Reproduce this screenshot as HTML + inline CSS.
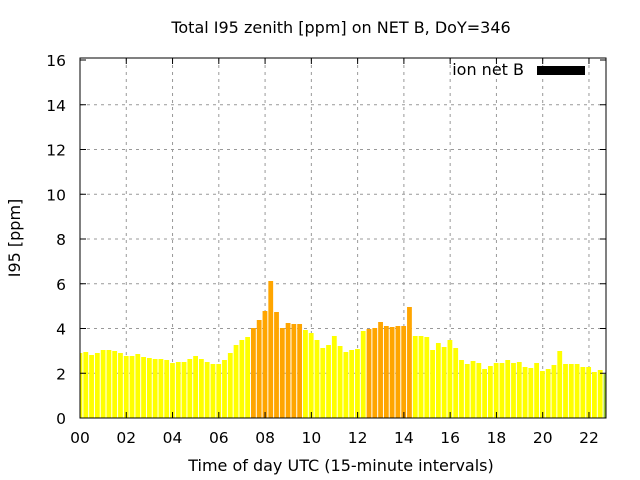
<!DOCTYPE html>
<html><head><meta charset="utf-8"><style>body{margin:0;background:#fff}svg{display:block}text{font-family:"DejaVu Sans","Liberation Sans",sans-serif;fill:#000}</style></head>
<body>
<svg id="s" width="640" height="480" xmlns="http://www.w3.org/2000/svg">
<rect width="640" height="480" fill="#fff"/>
<g id="grid" stroke="#999" stroke-dasharray="3,4" stroke-width="1"></g>
<g id="bars"></g>
<rect x="80" y="58" width="526" height="360" fill="none" stroke="#000" stroke-width="1"/>
<g id="ticks" stroke="#000"></g>
<g id="lab" font-size="15.5"></g>
<text x="341" y="33" text-anchor="middle" font-size="16">Total I95 zenith [ppm] on NET B, DoY=346</text>
<text x="341" y="471" text-anchor="middle" font-size="16">Time of day UTC (15-minute intervals)</text>
<text transform="translate(20,238) rotate(-90)" text-anchor="middle" font-size="16">I95 [ppm]</text>
<text x="524" y="75" text-anchor="end" font-size="16">ion net B</text>
<rect x="537" y="66" width="48" height="9" fill="#000"/>
</svg>
<script>
var NS="http://www.w3.org/2000/svg";
function el(p,t,a,tx){var e=document.createElementNS(NS,t);for(var k in a)e.setAttribute(k,a[k]);if(tx!==undefined)e.textContent=tx;document.getElementById(p).appendChild(e);}
var z1=[249,246,255,249,240,240,243,249,258,258,252,261,264,267,267,270,279,276,276,267,258,267,276,282,282,270,249,225,210,201,174,150,123,33,126,174,159,162,162,180,189,210,234,225,198];
var z2=[228,246,240,237,183,177,174,156,168,171,168,168,111,198,198,201,240,219,231,210,234,270,282,273,279,297,288,279,279,270,279,276,291,294,279,303,297,285,243,282,282,282,291,291,306,300,312];
var tops=[];z1.forEach(function(v){tops.push(270+v/3)});z2.forEach(function(v){tops.push(270+v/3)});
var orange=[30,31,32,33,34,35,36,37,38,50,51,52,53,54,55,56,57];
for(var i=0;i<tops.length;i++){var c=80+5.78*i,x=c-2.4,w=4.8;if(x<80){w-=80-x;x=80;}if(x+w>606)w=606-x;
var col=orange.indexOf(i)>=0?"#ffa500":"#ffff00";if(i==91)col="#9acd32";
el("bars","rect",{x:x,y:tops[i],width:w,height:418-tops[i],fill:col});}
for(var h=0;h<=22;h+=2){var x=80+h*23.135;if(h>0)el("grid","line",{x1:x,y1:58,x2:x,y2:418});
el("ticks","line",{x1:x,y1:418,x2:x,y2:412});el("ticks","line",{x1:x,y1:58,x2:x,y2:64});
el("lab","text",{x:x,y:443,"text-anchor":"middle"},(h<10?"0":"")+h);}
for(var v=0;v<=16;v+=2){var y=418-v*22.375;if(v>0&&v<16)el("grid","line",{x1:80,y1:y,x2:606,y2:y});
el("ticks","line",{x1:80,y1:y,x2:86,y2:y});el("ticks","line",{x1:606,y1:y,x2:600,y2:y});
el("lab","text",{x:66,y:y+6,"text-anchor":"end"},v);}
</script>
</body></html>
